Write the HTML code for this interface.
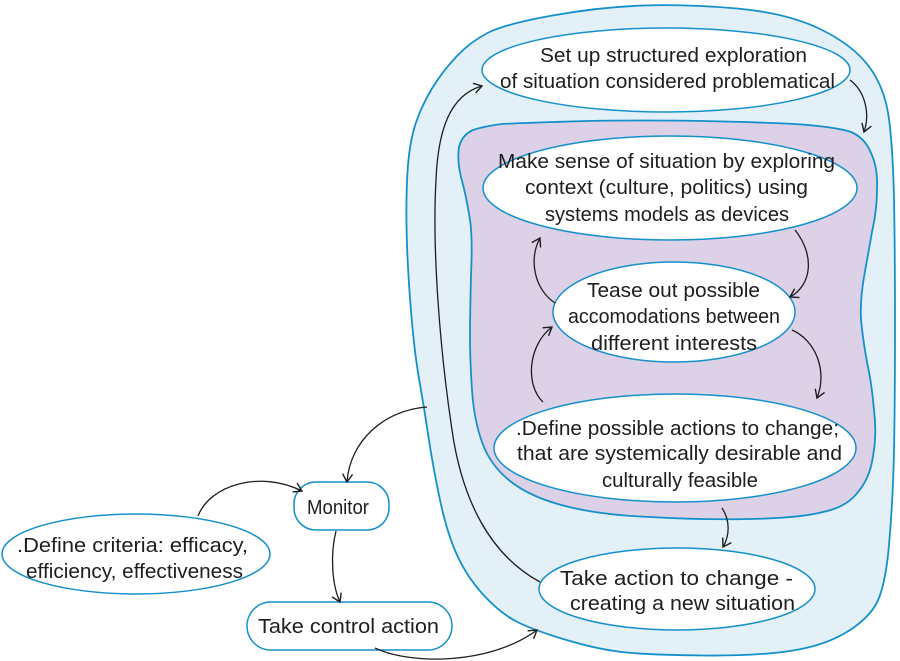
<!DOCTYPE html>
<html>
<head>
<meta charset="utf-8">
<style>
html,body{margin:0;padding:0;background:#fff;}
svg{display:block;}
text{font-family:"Liberation Sans",sans-serif;font-size:20px;fill:#1e1e1e;}
</style>
</head>
<body>
<svg width="900" height="661" viewBox="0 0 900 661" xmlns="http://www.w3.org/2000/svg">
<defs>
<marker id="ah" markerWidth="12" markerHeight="12" refX="9" refY="6" orient="auto" markerUnits="userSpaceOnUse">
<path d="M1,1 L9,6 L1,11" fill="none" stroke="#1e1e1e" stroke-width="1.4"/>
</marker>
</defs>

<!-- outer blob -->
<path d="M737,8.5 Q787,13 820,29 Q853,45 869,66.5 Q885,88 889,119 Q893,150 894,200 Q895,250 895,325 Q895,400 894,450 Q893,500 889,545 Q885,590 875,606 Q865,622 842.5,634.5 Q820,647 786.5,651.5 Q753,656 703,655.5 Q653,655 626.5,652.5 Q600,650 566.5,640 Q533,630 516.5,621.5 Q500,613 483.5,595 Q467,577 457,555 Q447,533 440,500 Q433,467 428.5,437 Q424,407 419,378.5 Q414,350 410.5,305 Q407,260 406.5,225 Q406,190 408,165 Q410,140 416,122.5 Q422,105 432,88.5 Q442,72 456,57 Q470,42 487.5,33 Q505,24 552.5,15.5 Q600,7 643.5,5.5 Q687,4 737,8.5 Z" fill="#e4f0f8" stroke="#1590cc" stroke-width="1.8"/>

<!-- purple blob -->
<path d="M586,121 Q653,120 703,121 Q753,122 795,124 Q837,127 851,132 Q865,138 871,153 Q878,168 877,189 Q877,210 872,232 Q868,255 864,277 Q860,300 861,320 Q863,340 867,362 Q872,385 874,410 Q877,435 873,456 Q870,478 858,492 Q847,507 823,512 Q800,518 750,519 Q700,520 650,517 Q600,515 565,506 Q530,497 510,481 Q490,465 482,442 Q474,420 472,390 Q470,360 470,338 Q470,317 471,275 Q473,233 469,214 Q466,195 461,177 Q457,160 459,147 Q462,135 473,130 Q485,126 502,124 Q520,123 586,121 Z" fill="#dcd1e6" stroke="#1590cc" stroke-width="1.8"/>

<!-- ellipses -->
<ellipse cx="666" cy="70" rx="184" ry="42" fill="#fff" stroke="#1590cc" stroke-width="1.5"/>
<ellipse cx="670" cy="188" rx="187" ry="52" fill="#fff" stroke="#1590cc" stroke-width="1.5"/>
<ellipse cx="674" cy="312" rx="121" ry="50" fill="#fff" stroke="#1590cc" stroke-width="1.5"/>
<ellipse cx="675" cy="448" rx="181" ry="54" fill="#fff" stroke="#1590cc" stroke-width="1.5"/>
<ellipse cx="677" cy="589" rx="138" ry="41" fill="#fff" stroke="#1590cc" stroke-width="1.5"/>
<rect x="294" y="482" width="95" height="48" rx="22" fill="#fff" stroke="#1590cc" stroke-width="1.5"/>
<ellipse cx="136" cy="554" rx="134" ry="40" fill="#fff" stroke="#1590cc" stroke-width="1.5"/>
<rect x="247" y="602" width="205" height="48" rx="24" fill="#fff" stroke="#1590cc" stroke-width="1.5"/>

<!-- arrows -->
<g fill="none" stroke="#1e1e1e" stroke-width="1.3" marker-end="url(#ah)">
<path d="M850,80 C866,92 870,115 864,132"/>
<path d="M795,230 C815,255 812,285 790,297"/>
<path d="M555,303 C535,290 528,260 540,238"/>
<path d="M543,402 C525,385 528,345 552,327"/>
<path d="M792,330 C815,340 828,370 817,398"/>
<path d="M722,508 C730,520 730,535 723,547"/>
<path d="M427,407 C385,410 350,440 347,482"/>
<path d="M198,516 C210,485 260,470 302,491"/>
<path d="M336,531 C330,555 332,585 340,602"/>
<path d="M375,648 C410,665 490,665 537,630"/>
<path d="M540,582 C490,555 462,500 452,430 C440,350 432,250 436,180 C438,130 450,95 482,86"/>
</g>

<!-- text -->
<text x="540" y="62" textLength="267" lengthAdjust="spacingAndGlyphs">Set up structured exploration</text>
<text x="500" y="88" textLength="335" lengthAdjust="spacingAndGlyphs">of situation considered problematical</text>

<text x="498" y="168" textLength="337" lengthAdjust="spacingAndGlyphs">Make sense of situation by exploring</text>
<text x="525" y="194" textLength="283" lengthAdjust="spacingAndGlyphs">context (culture, politics) using</text>
<text x="545" y="221" textLength="244" lengthAdjust="spacingAndGlyphs">systems models as devices</text>

<text x="587" y="297" textLength="173" lengthAdjust="spacingAndGlyphs">Tease out possible</text>
<text x="568" y="323" textLength="212" lengthAdjust="spacingAndGlyphs">accomodations between</text>
<text x="591" y="350" textLength="166" lengthAdjust="spacingAndGlyphs">different interests</text>

<text x="516" y="435" textLength="323" lengthAdjust="spacingAndGlyphs">.Define possible actions to change;</text>
<text x="517" y="460" textLength="325" lengthAdjust="spacingAndGlyphs">that are systemically desirable and</text>
<text x="602" y="487" textLength="156" lengthAdjust="spacingAndGlyphs">culturally feasible</text>

<text x="560" y="585" textLength="233" lengthAdjust="spacingAndGlyphs">Take action to change -</text>
<text x="570" y="610" textLength="225" lengthAdjust="spacingAndGlyphs">creating a new situation</text>

<text x="307" y="514" textLength="62" lengthAdjust="spacingAndGlyphs">Monitor</text>
<text x="17" y="552" textLength="231" lengthAdjust="spacingAndGlyphs">.Define criteria: efficacy,</text>
<text x="26" y="578" textLength="217" lengthAdjust="spacingAndGlyphs">efficiency, effectiveness</text>
<text x="258" y="633" textLength="181" lengthAdjust="spacingAndGlyphs">Take control action</text>
</svg>
</body>
</html>
